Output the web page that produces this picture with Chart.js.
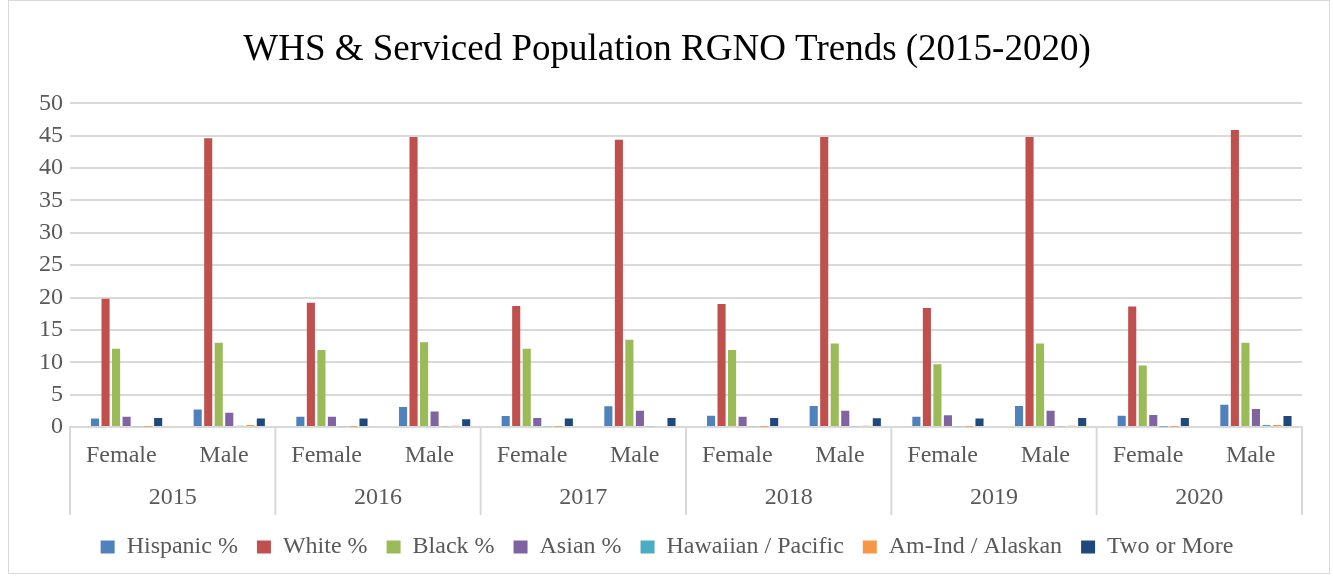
<!DOCTYPE html>
<html lang="en">
<head>
<meta charset="UTF-8">
<title>WHS & Serviced Population RGNO Trends</title>
<style>
    body { margin: 0; padding: 0; background: #fff; }
    #frame { position: absolute; left: 8px; top: 0; width: 1322px; height: 574px; border: 1px solid #d9d9d9; box-sizing: border-box; }
    #wrap { position: absolute; left: 0; top: 0; width: 1333px; height: 580px; }
</style>
</head>
<body>
<div id="frame"></div>
<div id="wrap"><canvas id="chart"></canvas></div>
<script src="https://cdn.jsdelivr.net/npm/chart.js"></script>
<script>
// categories
const years = ['2015', '2016', '2017', '2018', '2019', '2020'];
const genders = ['Female', 'Male', 'Female', 'Male', 'Female', 'Male', 'Female', 'Male', 'Female', 'Male', 'Female', 'Male'];

// series values
const hispanic = [1.3, 2.7, 1.6, 3.1, 1.7, 3.2, 1.75, 3.25, 1.6, 3.25, 1.75, 3.45];
const white    = [19.8, 44.6, 19.2, 44.8, 18.7, 44.4, 19.0, 44.8, 18.4, 44.8, 18.6, 45.9];
const black    = [12.1, 13.0, 11.9, 13.1, 12.1, 13.5, 11.9, 12.9, 9.7, 12.9, 9.5, 13.0];
const asian    = [1.6, 2.2, 1.6, 2.4, 1.4, 2.5, 1.6, 2.5, 1.8, 2.5, 1.85, 2.8];
const hawaiian = [0.1, 0.2, 0.1, 0.1, 0.1, 0.1, 0.1, 0.1, 0.1, 0.1, 0.05, 0.3];
const amInd    = [0.05, 0.3, 0.05, 0.2, 0.05, 0.15, 0.05, 0.2, 0.05, 0.2, 0.05, 0.3];
const twoMore  = [1.4, 1.3, 1.3, 1.2, 1.3, 1.4, 1.4, 1.35, 1.3, 1.4, 1.4, 1.7];
// the source sheet has an empty leading series, which nudges the bar groups right
const emptySeries = genders.map(() => null);

const yTicks = { min: 0, max: 50, step: 5 };

const serif = "'Liberation Serif', 'DejaVu Serif', serif";

// vertical separators between year groups, through both label rows
const yearLines = {
    id: 'yearLines',
    afterDraw(chart) {
        const x = chart.scales.x;
        const ctx = chart.ctx;
        const bottom = chart.scales.x2.bottom - 1;
        ctx.save();
        ctx.strokeStyle = '#d9d9d9';
        ctx.lineWidth = 2;
        for (let i = 0; i <= years.length; i++) {
            let px;
            if (i === 0) px = chart.chartArea.left;
            else if (i === years.length) px = chart.chartArea.right;
            else px = (x.getPixelForValue(2 * i - 1) + x.getPixelForValue(2 * i)) / 2;
            ctx.beginPath();
            ctx.moveTo(px, chart.chartArea.bottom);
            ctx.lineTo(px, bottom);
            ctx.stroke();
        }
        ctx.restore();
    }
};

const ds = (label, data, color) => ({ label, data, backgroundColor: color, borderWidth: 0, categoryPercentage: 0.82, barPercentage: 0.77 });

new Chart(document.getElementById('chart'), {
    type: 'bar',
    data: {
        labels: genders,
        datasets: [
            ds('', emptySeries, 'rgba(0,0,0,0)'),
            ds('Hispanic %', hispanic, '#4f81bd'),
            ds('White %', white, '#c0504d'),
            ds('Black %', black, '#9bbb59'),
            ds('Asian %', asian, '#8064a2'),
            ds('Hawaiian / Pacific', hawaiian, '#4bacc6'),
            ds('Am-Ind / Alaskan', amInd, '#f79646'),
            ds('Two or More', twoMore, '#1f497d')
        ]
    },
    options: {
        responsive: true,
        maintainAspectRatio: false,
        animation: false,
        layout: { padding: { left: 32, right: 31, top: 8, bottom: 11 } },
        plugins: {
            title: {
                display: true,
                text: 'WHS & Serviced Population RGNO Trends (2015-2020)',
                color: '#000',
                font: { family: serif, size: 37, weight: 'normal' },
                padding: { top: 20, bottom: 31 }
            },
            legend: {
                position: 'bottom',
                labels: {
                    color: '#595959',
                    font: { family: serif, size: 24 },
                    boxWidth: 14,
                    boxHeight: 13,
                    padding: 19,
                    filter: item => item.text !== ''
                }
            },
            tooltip: { enabled: false }
        },
        scales: {
            x: {
                grid: { display: false },
                border: { color: '#d9d9d9', width: 2 },
                ticks: { color: '#595959', font: { family: serif, size: 24 }, padding: 6 },
                afterFit(scale) { scale.height = 46; }
            },
            x2: {
                type: 'category',
                labels: years,
                position: 'bottom',
                grid: { display: false },
                border: { display: false },
                ticks: { color: '#595959', font: { family: serif, size: 24 }, padding: 2 },
                afterFit(scale) { scale.height = 43; }
            },
            y: {
                min: yTicks.min,
                max: yTicks.max,
                grid: { color: '#d9d9d9', lineWidth: 2, drawTicks: false },
                border: { display: false },
                ticks: { stepSize: yTicks.step, color: '#595959', font: { family: serif, size: 24 }, padding: 7 }
            }
        }
    },
    plugins: [yearLines]
});
</script>
</body>
</html>
